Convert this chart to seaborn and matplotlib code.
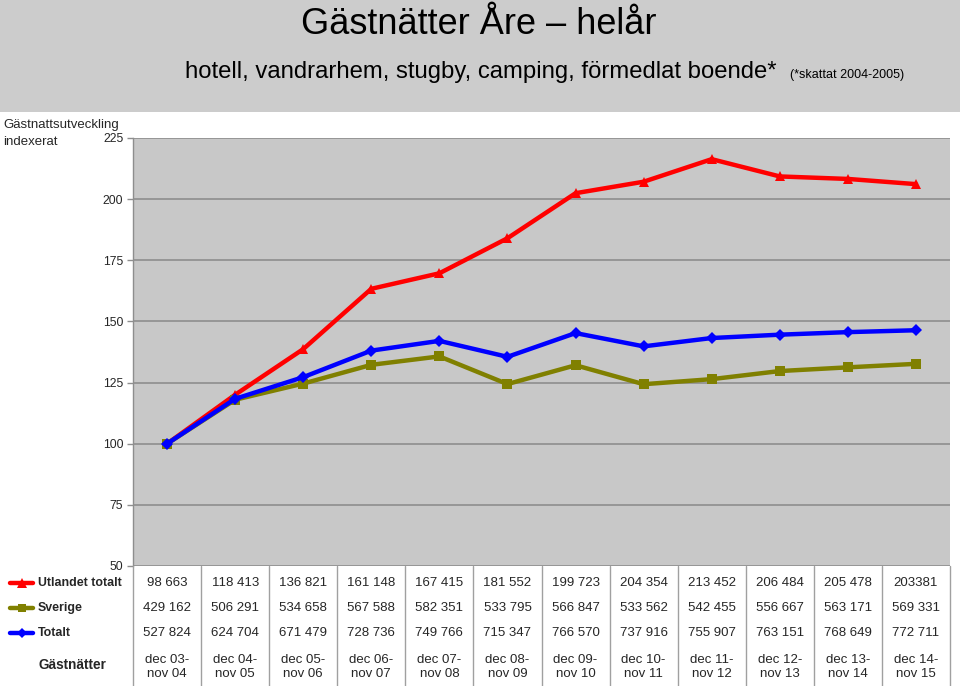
import numpy as np
import pandas as pd
import matplotlib
matplotlib.use("Agg")
import matplotlib.pyplot as plt
import seaborn as sns
from matplotlib.lines import Line2D
from matplotlib.patches import Rectangle
from matplotlib.transforms import blended_transform_factory

# ---------------- data ----------------
periods = ["dec 03-\nnov 04", "dec 04-\nnov 05", "dec 05-\nnov 06", "dec 06-\nnov 07",
           "dec 07-\nnov 08", "dec 08-\nnov 09", "dec 09-\nnov 10", "dec 10-\nnov 11",
           "dec 11-\nnov 12", "dec 12-\nnov 13", "dec 13-\nnov 14", "dec 14-\nnov 15"]
utlandet = [98663, 118413, 136821, 161148, 167415, 181552, 199723, 204354, 213452, 206484, 205478, 203381]
sverige = [429162, 506291, 534658, 567588, 582351, 533795, 566847, 533562, 542455, 556667, 563171, 569331]
totalt = [527824, 624704, 671479, 728736, 749766, 715347, 766570, 737916, 755907, 763151, 768649, 772711]
series_names = ["Utlandet totalt", "Sverige", "Totalt"]
y_ticks = [50, 75, 100, 125, 150, 175, 200, 225]

colors = {"Utlandet totalt": "#ff0000", "Sverige": "#808000", "Totalt": "#0000ff"}
markers = {"Utlandet totalt": "^", "Sverige": "s", "Totalt": "D"}
msizes = {"Utlandet totalt": 7.5, "Sverige": 7, "Totalt": 6}

raw = dict(zip(series_names, [utlandet, sverige, totalt]))
rows = []
for name in series_names:
    vals = np.array(raw[name], dtype=float)
    for i, v in enumerate(vals):
        rows.append({"x": i, "index": v / vals[0] * 100, "series": name})
df = pd.DataFrame(rows)


def fmt(v):
    return f"{v:,}".replace(",", " ")

table_text = {name: [fmt(v) for v in raw[name]] for name in series_names}
table_text["Utlandet totalt"][-1] = str(utlandet[-1])

# ---------------- figure ----------------
sns.set_style("white")
plt.rcParams["font.family"] = ["Liberation Sans", "DejaVu Sans"]

W, H = 960, 686
fig = plt.figure(figsize=(W / 100, H / 100), dpi=100)


def fy(py):
    return 1 - py / H


def fx(px):
    return px / W

# top grey band
fig.patches.append(Rectangle((0, fy(112)), 1, 1 - fy(112), transform=fig.transFigure,
                             facecolor="#cccccc", edgecolor="none", zorder=0))

fig.text(fx(479), fy(34), "Gästnätter Åre – helår", ha="center", va="baseline",
         fontsize=26, color="black")
fig.text(fx(185), fy(78), "hotell, vandrarhem, stugby, camping, förmedlat boende*",
         ha="left", va="baseline", fontsize=17.2, color="black")
fig.text(fx(790), fy(78), "(*skattat 2004-2005)", ha="left", va="baseline",
         fontsize=9, color="black")

fig.text(fx(3), fy(128), "Gästnattsutveckling", ha="left", va="baseline", fontsize=9.5)
fig.text(fx(3), fy(145), "indexerat", ha="left", va="baseline", fontsize=9.5)

ax_l, ax_r, ax_t, ax_b = 133, 950, 138, 566
ax = fig.add_axes([fx(ax_l), fy(ax_b), fx(ax_r) - fx(ax_l), fy(ax_t) - fy(ax_b)])
ax.set_facecolor("#c8c8c8")

sns.lineplot(data=df, x="x", y="index", hue="series", style="series",
             hue_order=series_names, style_order=series_names,
             palette=colors, markers=markers, dashes=False,
             linewidth=3.2, markersize=7, markeredgewidth=0,
             legend=False, ax=ax)
for line, name in zip(ax.get_lines(), series_names):
    line.set_markersize(msizes[name])

ax.set_xlim(-0.5, len(periods) - 0.5)
ax.set_ylim(50, 225)
ax.set_yticks(y_ticks)
ax.set_yticklabels([str(t) for t in y_ticks], fontsize=8.8)
ax.set_xticks([])
ax.set_xlabel("")
ax.set_ylabel("")
ax.yaxis.grid(True, color="#8e8e8e", linewidth=1.2)
ax.set_axisbelow(True)
ax.tick_params(axis="y", length=4, width=1, color="#8e8e8e", pad=3, left=True)
for s in ["top", "right", "bottom"]:
    ax.spines[s].set_visible(False)
ax.spines["left"].set_color("#8e8e8e")
ax.spines["left"].set_linewidth(1)

# ---------------- table ----------------
trans = blended_transform_factory(ax.transData, fig.transFigure)
for k in range(len(periods) + 1):
    fig.add_artist(Line2D([k - 0.5, k - 0.5], [0, fy(ax_b)], transform=trans,
                          color="#a0a0a0", linewidth=1))

row_y = {"Utlandet totalt": 583, "Sverige": 608, "Totalt": 633}
for name in series_names:
    y = fy(row_y[name])
    for i, t in enumerate(table_text[name]):
        fig.text(i, y, t, transform=trans, ha="center", va="center", fontsize=9.5)
    # legend key
    fig.add_artist(Line2D([fx(10), fx(33)], [y, y], transform=fig.transFigure,
                          color=colors[name], linewidth=3.2))
    fig.add_artist(Line2D([fx(21.5)], [y], transform=fig.transFigure, color=colors[name],
                          marker=markers[name], markersize=msizes[name] - 1,
                          markeredgewidth=0, linestyle="none"))
    fig.text(fx(38), y, name, ha="left", va="center", fontsize=8.9, fontweight="bold")

for i, p in enumerate(periods):
    fig.text(i, fy(667), p, transform=trans, ha="center", va="center", fontsize=9.5,
             linespacing=1.25)
fig.text(fx(72), fy(665), "Gästnätter", ha="center", va="center", fontsize=9.8,
         fontweight="bold")

fig.savefig("out.png", dpi=100)
